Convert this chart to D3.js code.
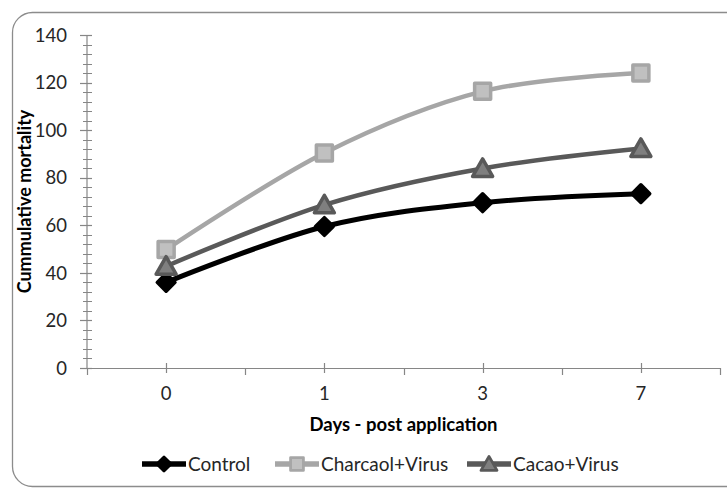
<!DOCTYPE html>
<html>
<head>
<meta charset="utf-8">
<script src="https://cdn.jsdelivr.net/npm/d3@7"></script>
<style>
  html, body { margin: 0; padding: 0; background: #fff; }
  svg { display: block; }
  text { font-family: Lato, "Open Sans", sans-serif; }
</style>
</head>
<body>
<svg id="chart" width="727" height="489"></svg>
<script>
// Days after application (categorical x axis)
const days = ["0", "1", "3", "7"];

// Cumulative mortality per treatment
const control = [36, 59.5, 69.5, 73.3];
const charcoalVirus = [49.8, 90.4, 116.3, 124];
const cacaoVirus = [42.8, 68.6, 83.9, 92.3];

const seriesNames = ["Control", "Charcaol+Virus", "Cacao+Virus"];
const yTicks = [0, 20, 40, 60, 80, 100, 120, 140];

const series = [
  { name: seriesNames[0], values: control, line: "#000000", fill: "#000000", stroke: "#000000", width: 5, shape: "diamond" },
  { name: seriesNames[1], values: charcoalVirus, line: "#a6a6a6", fill: "#c0c0c0", stroke: "#a6a6a6", width: 4.5, shape: "square" },
  { name: seriesNames[2], values: cacaoVirus, line: "#595959", fill: "#7f7f7f", stroke: "#595959", width: 4.5, shape: "triangle" }
];

const svg = d3.select("#chart");
const plot = { left: 87, right: 720, top: 35, bottom: 368 };

// Outer chart frame with rounded corners
svg.append("rect")
  .attr("x", 12.5).attr("y", 12.5)
  .attr("width", 760).attr("height", 474)
  .attr("rx", 20).attr("ry", 20)
  .attr("fill", "#fff")
  .attr("stroke", "#8c8c8c")
  .attr("stroke-width", 1.3);

const x = d3.scaleBand().domain(days).range([plot.left, plot.right]).paddingInner(0).paddingOuter(0);
const xc = d => x(d) + x.bandwidth() / 2;
const y = d3.scaleLinear().domain([0, 140]).range([plot.bottom, plot.top]);

const axisColor = "#868686";
const labelColor = "#262626";
const tickFont = 18.5;

// Y axis: minor ticks every 4, major every 20, both crossing the axis line
const yg = svg.append("g");
yg.append("line")
  .attr("x1", plot.left).attr("x2", plot.left)
  .attr("y1", y(0)).attr("y2", y(140))
  .attr("stroke", axisColor).attr("stroke-width", 1.2);
yg.selectAll("line.minor").data(d3.range(0, 141, 4)).join("line")
  .attr("class", "minor")
  .attr("x1", plot.left - 4).attr("x2", plot.left + 5)
  .attr("y1", d => Math.round(y(d)) + 0.5).attr("y2", d => Math.round(y(d)) + 0.5)
  .attr("stroke", axisColor).attr("stroke-width", 1);
yg.selectAll("line.major").data(yTicks).join("line")
  .attr("class", "major")
  .attr("x1", plot.left - 7).attr("x2", plot.left + 5)
  .attr("y1", d => Math.round(y(d)) + 0.5).attr("y2", d => Math.round(y(d)) + 0.5)
  .attr("stroke", axisColor).attr("stroke-width", 1.2);
yg.selectAll("text").data(yTicks).join("text")
  .attr("x", plot.left - 20)
  .attr("y", d => y(d))
  .attr("dy", "0.36em")
  .attr("text-anchor", "end")
  .attr("font-size", tickFont)
  .attr("fill", labelColor)
  .text(d => d);

// X axis: crossing ticks at category centres, outside ticks at band edges
const xg = svg.append("g");
xg.append("line")
  .attr("x1", plot.left).attr("x2", plot.right)
  .attr("y1", plot.bottom + 0.5).attr("y2", plot.bottom + 0.5)
  .attr("stroke", axisColor).attr("stroke-width", 1.2);
const edges = days.map(d => x(d)).concat([plot.right]);
xg.selectAll("line.edge").data(edges).join("line")
  .attr("class", "edge")
  .attr("x1", d => Math.round(d) + 0.5).attr("x2", d => Math.round(d) + 0.5)
  .attr("y1", plot.bottom).attr("y2", plot.bottom + 7)
  .attr("stroke", axisColor).attr("stroke-width", 1.2);
xg.selectAll("line.centre").data(days).join("line")
  .attr("class", "centre")
  .attr("x1", d => Math.round(xc(d)) + 0.5).attr("x2", d => Math.round(xc(d)) + 0.5)
  .attr("y1", plot.bottom - 5).attr("y2", plot.bottom + 5)
  .attr("stroke", axisColor).attr("stroke-width", 1.2);
xg.selectAll("text").data(days).join("text")
  .attr("x", d => xc(d))
  .attr("y", 400)
  .attr("text-anchor", "middle")
  .attr("font-size", tickFont)
  .attr("fill", labelColor)
  .text(d => d);

// Axis titles
svg.append("text")
  .attr("x", (plot.left + plot.right) / 2)
  .attr("y", 431)
  .attr("text-anchor", "middle")
  .attr("font-size", 18.5)
  .attr("font-weight", "bold")
  .attr("fill", "#000")
  .text("Days - post application");
svg.append("text")
  .attr("transform", `translate(31, ${(plot.top + plot.bottom) / 2}) rotate(-90)`)
  .attr("text-anchor", "middle")
  .attr("font-size", 18)
  .attr("font-weight", "bold")
  .attr("fill", "#000")
  .text("Cummulative mortality");

// Marker shapes
const shapePath = {
  diamond: d3.symbol().type(d3.symbolDiamond2).size(200)(),
  square: "M-8,-8H8V8H-8Z",
  triangle: "M0,-9.5L10,8L-10,8Z"
};

// Smoothed series lines and their markers
const line = d3.line()
  .x((d, i) => xc(days[i]))
  .y(d => y(d))
  .curve(d3.curveCardinal.tension(0));

series.forEach(s => {
  const g = svg.append("g");
  g.append("path")
    .attr("d", line(s.values))
    .attr("fill", "none")
    .attr("stroke", s.line)
    .attr("stroke-width", s.width)
    .attr("stroke-linecap", "round");
  g.selectAll("path.mk").data(s.values).join("path")
    .attr("class", "mk")
    .attr("transform", (d, i) => `translate(${xc(days[i])},${y(d)})`)
    .attr("d", shapePath[s.shape])
    .attr("fill", s.fill)
    .attr("stroke", s.stroke)
    .attr("stroke-width", 3.5)
    .attr("stroke-linejoin", "round");
});

// Legend
const legendItems = [
  { s: series[0], x0: 142 },
  { s: series[1], x0: 275 },
  { s: series[2], x0: 467 }
];
const ly = 464;
legendItems.forEach(({ s, x0 }) => {
  const g = svg.append("g");
  g.append("line")
    .attr("x1", x0).attr("x2", x0 + 44)
    .attr("y1", ly).attr("y2", ly)
    .attr("stroke", s.line)
    .attr("stroke-width", 5.5);
  g.append("path")
    .attr("transform", `translate(${x0 + 22},${ly}) scale(0.8)`)
    .attr("d", shapePath[s.shape])
    .attr("fill", s.fill)
    .attr("stroke", s.stroke)
    .attr("stroke-width", 3.5)
    .attr("stroke-linejoin", "round");
  g.append("text")
    .attr("x", x0 + 46)
    .attr("y", ly)
    .attr("dy", "0.36em")
    .attr("font-size", 19)
    .attr("fill", labelColor)
    .text(s.name);
});
</script>
</body>
</html>
